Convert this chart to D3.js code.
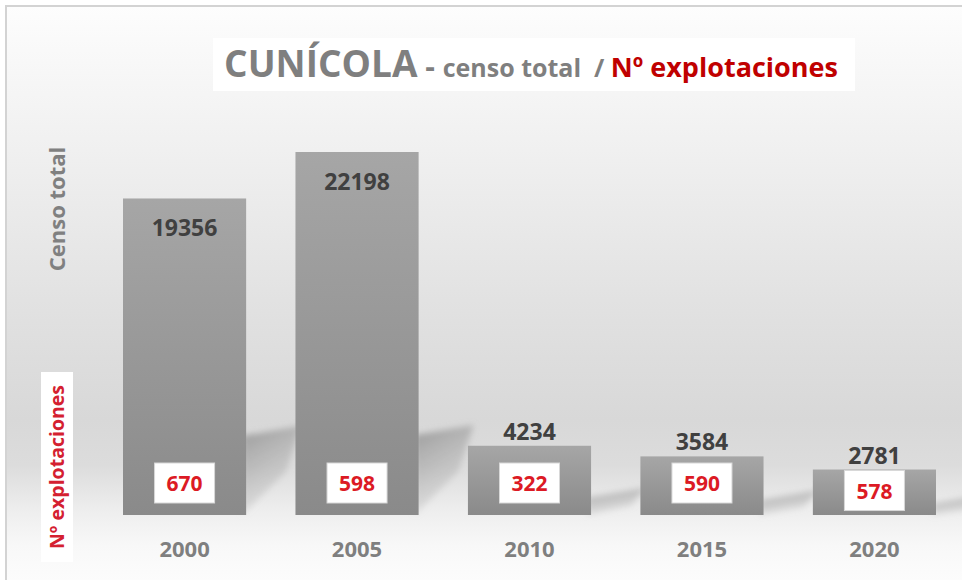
<!DOCTYPE html>
<html>
<head>
<meta charset="utf-8">
<script src="https://cdn.jsdelivr.net/npm/d3@7/dist/d3.min.js"></script>
<style>
  body { margin: 0; background: #fff; }
  text { font-family: "Open Sans", "DejaVu Sans", sans-serif; font-weight: bold; white-space: pre; }
</style>
</head>
<body>
<div id="chart"></div>
<script>
// data
const years = ["2000", "2005", "2010", "2015", "2020"];
const censo = [19356, 22198, 4234, 3584, 2781];
const explotaciones = [670, 598, 322, 590, 578];

let w = 962,
    h = 580;

let svg = d3.select("#chart")
            .append("svg")
            .attr("width", w)
            .attr("height", h);

let defs = svg.append("defs");

// background wall + floor
let bg = defs.append("linearGradient")
             .attr("id", "bg")
             .attr("x1", 0).attr("y1", 0).attr("x2", 0).attr("y2", 1);
[[0, "#fdfdfd"], [0.25, "#f0f0f0"], [0.55, "#e0e0e0"], [0.72, "#d8d8d8"],
 [0.8, "#dcdcdc"], [0.88, "#eeeeee"], [0.94, "#f8f8f8"], [1, "#fcfcfc"]]
  .forEach(s => bg.append("stop").attr("offset", s[0]).attr("stop-color", s[1]));

// bar fill
let barGrad = defs.append("linearGradient")
                  .attr("id", "barGrad")
                  .attr("x1", 0).attr("y1", 0).attr("x2", 0).attr("y2", 1);
barGrad.append("stop").attr("offset", 0).attr("stop-color", "#a6a6a6");
barGrad.append("stop").attr("offset", 1).attr("stop-color", "#8a8a8a");

// floor shadow fill, dark at the top edge fading downwards
let shGrad = defs.append("linearGradient")
                 .attr("id", "shGrad")
                 .attr("x1", 0).attr("y1", 0).attr("x2", 0.4).attr("y2", 1);
shGrad.append("stop").attr("offset", 0).attr("stop-color", "#888888").attr("stop-opacity", 0.8);
shGrad.append("stop").attr("offset", 1).attr("stop-color", "#bdbdbd").attr("stop-opacity", 0.25);

let blur = defs.append("filter").attr("id", "blur")
               .attr("x", "-50%").attr("y", "-50%").attr("width", "200%").attr("height", "200%");
blur.append("feGaussianBlur").attr("stdDeviation", 3);

svg.append("rect")
   .attr("x", 6).attr("y", 6)
   .attr("width", w - 6).attr("height", h - 6)
   .attr("fill", "url(#bg)");

// frame lines (top and left only)
svg.append("path")
   .attr("d", `M6,${h} L6,6 L${w},6`)
   .attr("fill", "none")
   .attr("stroke", "#d3d3d3")
   .attr("stroke-width", 2);

let x = d3.scaleBand()
          .domain(years)
          .range([123, 936])
          .paddingInner(0.286)
          .paddingOuter(0);

let y = d3.scaleLinear()
          .domain([0, 22198])
          .range([515, 152]);

let rows = years.map((yr, i) => ({ year: yr, censo: censo[i], expl: explotaciones[i] }));

// cast shadows on the floor to the right of each bar
svg.append("g")
   .selectAll("path")
   .data(rows)
   .enter()
   .append("path")
   .attr("d", d => {
     let x1 = x(d.year) + x.bandwidth();
     let sh = Math.min((y(0) - y(d.censo)) * 0.25, 80);
     return `M${x1 - 4},${y(0) - sh} L${x1 + 55},${y(0) - sh - 10} L${x1 + 40},${y(0) - sh * 0.55} L${x1 - 4},${y(0)} Z`;
   })
   .attr("fill", "url(#shGrad)")
   .attr("filter", "url(#blur)");

// bars
svg.append("g")
   .selectAll("rect")
   .data(rows)
   .enter()
   .append("rect")
   .attr("x", d => x(d.year))
   .attr("y", d => y(d.censo))
   .attr("width", x.bandwidth())
   .attr("height", d => y(0) - y(d.censo))
   .attr("fill", "url(#barGrad)");

// censo value labels
svg.append("g")
   .selectAll("text")
   .data(rows)
   .enter()
   .append("text")
   .attr("x", d => x(d.year) + x.bandwidth() / 2)
   .attr("y", d => (y(0) - y(d.censo) > 100) ? y(d.censo) + 38 : y(d.censo) - 6)
   .attr("text-anchor", "middle")
   .attr("fill", "#404040")
   .style("font-size", "23px")
   .text(d => d.censo);

// explotaciones boxed labels
let boxes = svg.append("g")
               .selectAll("g")
               .data(rows)
               .enter()
               .append("g")
               .attr("transform", d => `translate(${x(d.year) + x.bandwidth() / 2}, ${Math.max(483, y(d.censo) + 21)})`);

boxes.append("rect")
     .attr("x", -30).attr("y", -20)
     .attr("width", 60).attr("height", 40)
     .attr("fill", "#fff")
     .attr("stroke", "#d8d8d8")
     .attr("stroke-width", 1);

boxes.append("text")
     .attr("y", 8)
     .attr("text-anchor", "middle")
     .attr("fill", "#dc1a24")
     .style("font-size", "21px")
     .text(d => d.expl);

// year labels
svg.append("g")
   .selectAll("text")
   .data(rows)
   .enter()
   .append("text")
   .attr("x", d => x(d.year) + x.bandwidth() / 2)
   .attr("y", 557)
   .attr("text-anchor", "middle")
   .attr("fill", "#7f7f7f")
   .style("font-size", "22px")
   .text(d => d.year);

// title
svg.append("rect")
   .attr("x", 213).attr("y", 38)
   .attr("width", 642).attr("height", 53)
   .attr("fill", "#fff");

let title = svg.append("text")
               .attr("x", 531)
               .attr("y", 77)
               .attr("text-anchor", "middle");
title.append("tspan").attr("fill", "#7f7f7f").style("font-size", "37px").text("CUNÍCOLA");
title.append("tspan").attr("fill", "#7f7f7f").style("font-size", "30px").text(" - ");
title.append("tspan").attr("fill", "#7f7f7f").style("font-size", "25px").text("censo total  / ");
title.append("tspan").attr("fill", "#c00000").style("font-size", "27px").text("Nº explotaciones");

// axis titles
svg.append("text")
   .attr("transform", "translate(65, 209) rotate(-90)")
   .attr("text-anchor", "middle")
   .attr("fill", "#808080")
   .style("font-size", "22px")
   .text("Censo total");

svg.append("rect")
   .attr("x", 41).attr("y", 372)
   .attr("width", 32).attr("height", 190)
   .attr("fill", "#fff");

svg.append("text")
   .attr("transform", "translate(64, 467) rotate(-90)")
   .attr("text-anchor", "middle")
   .attr("fill", "#d42030")
   .style("font-size", "19.5px")
   .text("Nº explotaciones");
</script>
</body>
</html>
